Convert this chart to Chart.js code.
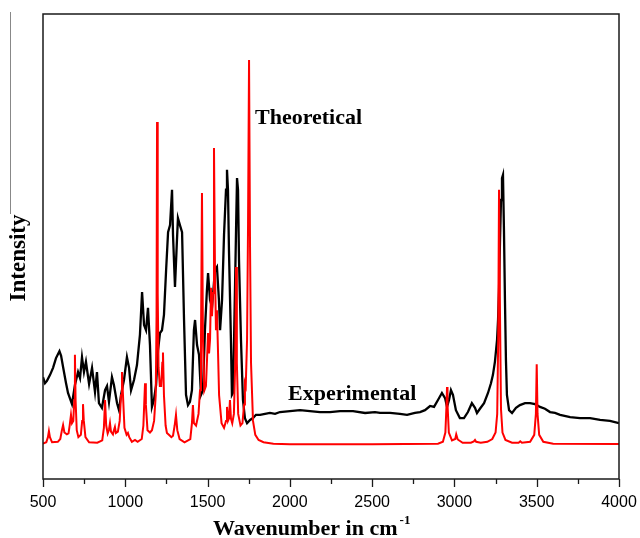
<!DOCTYPE html>
<html>
<head>
<meta charset="utf-8">
<script src="https://cdn.jsdelivr.net/npm/chart.js@4.4.1/dist/chart.umd.min.js"></script>
<style>
html,body{margin:0;padding:0;background:#fff;}
#wrap{width:640px;height:538px;position:relative;}
</style>
</head>
<body>
<div id="wrap"><canvas id="c" width="640" height="538"></canvas></div>
<script>
// ---- DATA ----
const xTickValues = [500, 1000, 1500, 2000, 2500, 3000, 3500, 4000];

// Experimental spectrum (black)
const expWavenumber = [500,512,524,543,561,579,600,610,622,640,652,676,694,713,725,737,749,761,780,798,816,828,840,858,877,889,901,919,931,950,962,974,992,1010,1023,1035,1053,1071,1089,1102,1114,1126,1138,1150,1162,1174,1187,1199,1211,1223,1235,1248,1260,1272,1284,1290,1302,1314,1320,1332,1345,1357,1369,1381,1393,1405,1417,1424,1436,1448,1460,1472,1484,1496,1503,1515,1527,1545,1557,1569,1576,1588,1600,1612,1618,1624,1630,1642,1648,1654,1661,1673,1679,1685,1691,1703,1715,1727,1740,1758,1776,1794,1819,1849,1879,1910,1940,2001,2062,2122,2183,2244,2305,2384,2457,2517,2548,2609,2669,2712,2760,2791,2821,2852,2876,2900,2924,2943,2955,2967,2979,2991,3009,3033,3058,3082,3106,3125,3137,3155,3180,3204,3222,3234,3246,3259,3265,3271,3277,3283,3289,3295,3301,3307,3313,3319,3332,3350,3374,3398,3429,3459,3490,3520,3550,3581,3611,3642,3703,3763,3824,3885,3945,4000];
const expIntensity = [21.9,20.6,21.1,22.4,23.9,26.0,27.5,26.5,24.1,20.6,18.5,16.1,20.2,23.0,21.7,26.2,23.0,25.2,20.4,23.9,18.7,23.0,16.3,15.3,19.1,20.0,16.6,21.9,20.2,16.3,14.8,18.1,21.3,26.2,23.9,19.1,21.3,24.5,31.0,40.2,33.1,32.0,36.8,28.8,15.5,17.0,20.2,27.7,31.4,32.0,35.3,44.9,53.1,54.6,62.2,52.5,41.3,51.4,56.1,54.6,53.1,34.2,18.1,15.9,16.6,19.1,32.0,34.2,28.8,26.7,18.1,19.1,32.0,40.6,44.3,38.5,37.0,44.9,45.6,38.5,32.0,38.5,52.5,62.2,66.5,62.2,49.2,29.9,18.1,18.5,29.9,53.5,64.7,62.2,47.1,29.9,17.0,13.1,12.0,12.7,13.1,13.8,13.8,14.0,14.2,14.0,14.4,14.6,14.8,14.6,14.4,14.4,14.6,14.6,14.2,14.4,14.2,14.2,14.0,13.8,14.2,14.4,14.8,15.7,15.5,17.0,18.5,17.4,15.5,17.0,19.1,18.1,14.8,13.1,13.1,14.4,16.3,15.3,14.2,15.1,16.3,18.5,20.6,22.4,25.2,29.9,34.2,40.6,51.4,60.0,64.7,65.4,53.5,38.5,25.6,18.1,14.8,14.2,15.3,15.9,16.3,16.3,16.1,15.5,15.1,14.4,14.2,13.8,13.3,13.1,13.1,12.7,12.5,12.0];

// Theoretical spectrum (red)
const theoWavenumber = [500,520,530,536,542,555,590,605,615,622,630,645,655,662,670,676,684,690,694,698,705,715,730,738,743,748,758,780,830,860,870,877,884,893,901,907,913,925,931,937,943,955,966,974,980,986,995,1008,1016,1024,1040,1059,1075,1100,1110,1116,1120,1125,1135,1150,1162,1175,1185,1190,1193,1197,1202,1210,1218,1225,1229,1235,1245,1253,1265,1280,1290,1300,1308,1316,1330,1360,1395,1405,1411,1417,1430,1445,1454,1460,1466,1472,1480,1490,1497,1503,1509,1515,1521,1527,1533,1539,1545,1551,1557,1563,1570,1585,1600,1612,1618,1624,1630,1636,1642,1650,1660,1668,1673,1678,1686,1700,1712,1722,1727,1732,1740,1746,1752,1758,1764,1776,1790,1810,1840,1900,2000,2500,2900,2930,2945,2952,2955,2958,2966,2985,3005,3011,3015,3020,3050,3100,3118,3125,3132,3160,3200,3230,3250,3260,3266,3271,3277,3283,3292,3310,3350,3390,3400,3410,3460,3485,3495,3500,3505,3515,3540,3600,4000];
const theoIntensity = [7.6,7.9,9.0,10.3,9.0,7.9,8.0,8.6,10.5,11.6,10.0,9.6,9.8,11.5,13.8,12.0,12.5,17.0,26.7,17.0,10.5,9.0,9.5,12.5,16.1,12.5,9.0,7.9,7.8,8.3,11.0,17.0,11.5,9.8,10.6,12.0,10.2,9.6,10.5,11.2,9.9,10.2,12.5,18.0,23.0,18.0,11.0,9.5,9.9,9.0,8.0,8.4,8.0,8.6,11.5,17.0,20.6,16.0,10.5,10.0,10.5,12.5,18.0,35.0,76.8,40.0,24.0,20.0,20.0,25.0,27.2,18.0,11.5,9.9,9.5,9.0,9.3,11.5,13.8,10.5,8.6,7.9,8.6,12.0,15.9,12.0,11.5,14.0,19.1,30.0,61.5,30.0,19.0,20.0,26.0,31.4,27.0,30.0,41.1,35.0,40.0,71.2,45.0,32.0,36.3,28.0,18.0,12.0,11.0,12.5,15.5,12.5,13.0,17.0,13.0,12.0,14.0,25.0,45.6,25.0,14.0,11.5,12.0,16.0,20.6,20.0,30.0,55.0,90.1,50.0,25.0,12.5,9.5,8.4,7.9,7.6,7.5,7.5,7.6,8.0,10.0,16.0,19.8,16.0,10.0,8.3,8.6,9.6,9.6,8.5,7.8,7.8,8.1,8.4,8.0,7.8,8.0,8.6,10.0,14.0,30.0,62.2,35.0,15.0,10.0,8.4,7.8,7.8,8.1,7.8,8.0,9.5,14.0,24.7,14.0,9.5,8.0,7.6,7.5];

const seriesNames = ['Experimental', 'Theoretical'];
const xTitle = 'Wavenumber in cm';
const xTitleSup = '-1';
const yTitle = 'Intensity';
// label anchor positions in data units
const theoLabelAt = {x: 1788, y: 77.8};
const expLabelAt = {x: 1989, y: 18.5};

// ---- build ----
const toPts = (xs, ys) => xs.map((x, i) => ({x: x, y: ys[i]}));
const minorTicks = xTickValues.slice(0, -1).map((v, i) => (v + xTickValues[i + 1]) / 2);

const decor = {
  id: 'decor',
  afterDraw(chart) {
    const ctx = chart.ctx, ca = chart.chartArea, xs = chart.scales.x, ys = chart.scales.y;
    ctx.save();
    // frame
    ctx.strokeStyle = '#1a1a1a';
    ctx.lineWidth = 1.5;
    ctx.strokeRect(ca.left, ca.top, ca.right - ca.left, ca.bottom - ca.top);
    // ticks
    ctx.lineWidth = 1.3;
    ctx.beginPath();
    xTickValues.forEach(v => { const p = Math.round(xs.getPixelForValue(v)) + 0.5; ctx.moveTo(p, ca.bottom); ctx.lineTo(p, ca.bottom + 8); });
    minorTicks.forEach(v => { const p = Math.round(xs.getPixelForValue(v)) + 0.5; ctx.moveTo(p, ca.bottom); ctx.lineTo(p, ca.bottom + 5); });
    ctx.stroke();
    // gray line at far left
    ctx.strokeStyle = '#888';
    ctx.lineWidth = 1;
    ctx.beginPath(); ctx.moveTo(10.5, 12); ctx.lineTo(10.5, 214); ctx.stroke();
    // series labels
    ctx.fillStyle = '#000';
    ctx.font = 'bold 22px "Liberation Serif"';
    ctx.textAlign = 'left';
    ctx.textBaseline = 'alphabetic';
    ctx.fillText(seriesNames[1], xs.getPixelForValue(theoLabelAt.x), ys.getPixelForValue(theoLabelAt.y) + 7);
    ctx.fillText(seriesNames[0], xs.getPixelForValue(expLabelAt.x), ys.getPixelForValue(expLabelAt.y) + 7);
    // x title
    const tx = 213, ty = 535;
    ctx.fillText(xTitle, tx, ty);
    const w = ctx.measureText(xTitle).width;
    ctx.font = 'bold 13px "Liberation Serif"';
    ctx.fillText(xTitleSup, tx + w + 2, ty - 11);
    // y title
    ctx.font = 'bold 23px "Liberation Serif"';
    ctx.translate(25, 258);
    ctx.rotate(-Math.PI / 2);
    ctx.textAlign = 'center';
    ctx.fillText(yTitle, 0, 0);
    ctx.restore();
  }
};

new Chart(document.getElementById('c'), {
  type: 'line',
  data: {
    datasets: [
      { label: seriesNames[1], data: toPts(theoWavenumber, theoIntensity), borderColor: '#ff0000', borderWidth: 2, pointRadius: 0, tension: 0, fill: false, order: 0 },
      { label: seriesNames[0], data: toPts(expWavenumber, expIntensity), borderColor: '#000000', borderWidth: 2.3, pointRadius: 0, tension: 0, fill: false, order: 1 }
    ]
  },
  options: {
    responsive: false,
    devicePixelRatio: 1,
    animation: false,
    layout: { padding: { left: 43, right: 21, top: 14, bottom: 0 } },
    plugins: { legend: { display: false }, tooltip: { enabled: false } },
    scales: {
      x: {
        type: 'linear', min: 500, max: 4000,
        afterBuildTicks: s => { s.ticks = xTickValues.map(v => ({ value: v })); },
        afterFit: s => { s.height = 59; s.paddingLeft = 0; s.paddingRight = 0; },
        ticks: { color: '#000', font: { family: '"Liberation Sans"', size: 16 }, padding: 14, maxRotation: 0, autoSkip: false, callback: v => String(v) },
        grid: { display: false, drawTicks: false },
        border: { display: false }
      },
      y: { min: 0, max: 100, display: false }
    }
  },
  plugins: [decor]
});
</script>
</body>
</html>
